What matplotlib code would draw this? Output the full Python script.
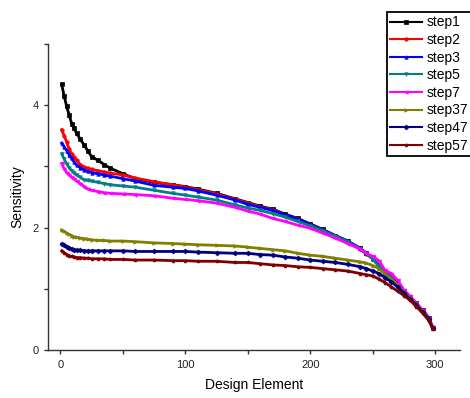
import matplotlib
matplotlib.use("Agg")
import matplotlib.pyplot as plt
from matplotlib.ticker import MultipleLocator

plt.rcParams["font.family"] = ["Liberation Sans", "DejaVu Sans"]

# design element index (sampled) and sensitivity per optimisation step
element = [1, 3, 5, 7, 9, 11, 13, 16, 19, 22, 25, 30, 35, 40, 50, 60, 75, 90, 100, 110,
           125, 140, 150, 160, 170, 180, 190, 200, 210, 220, 230, 240, 245, 250, 255, 260,
           265, 270, 275, 280, 285, 290, 295, 298]

step1 = [4.34, 4.15, 3.98, 3.84, 3.70, 3.62, 3.54, 3.44, 3.35, 3.25, 3.16, 3.10, 3.03, 2.97,
         2.88, 2.80, 2.74, 2.70, 2.67, 2.63, 2.56, 2.47, 2.41, 2.35, 2.30, 2.22, 2.15, 2.06,
         1.97, 1.87, 1.78, 1.66, 1.58, 1.50, 1.38, 1.27, 1.19, 1.07, 0.96, 0.87, 0.76, 0.65,
         0.53, 0.36]
step2 = [3.60, 3.50, 3.40, 3.28, 3.20, 3.15, 3.10, 3.03, 2.99, 2.97, 2.95, 2.93, 2.91, 2.89,
         2.86, 2.81, 2.75, 2.70, 2.66, 2.62, 2.55, 2.46, 2.40, 2.34, 2.29, 2.21, 2.14, 2.05,
         1.96, 1.87, 1.77, 1.65, 1.57, 1.49, 1.37, 1.26, 1.18, 1.06, 0.95, 0.86, 0.75, 0.64,
         0.52, 0.36]
step3 = [3.38, 3.32, 3.26, 3.19, 3.13, 3.07, 3.02, 2.98, 2.94, 2.92, 2.90, 2.88, 2.86, 2.84,
         2.80, 2.76, 2.69, 2.66, 2.64, 2.60, 2.53, 2.45, 2.38, 2.33, 2.28, 2.21, 2.14, 2.05,
         1.96, 1.87, 1.78, 1.66, 1.58, 1.49, 1.38, 1.26, 1.18, 1.06, 0.95, 0.86, 0.75, 0.64,
         0.52, 0.36]
step5 = [3.21, 3.12, 3.04, 2.98, 2.93, 2.89, 2.86, 2.82, 2.78, 2.77, 2.76, 2.74, 2.72, 2.70,
         2.68, 2.66, 2.61, 2.56, 2.53, 2.50, 2.45, 2.37, 2.32, 2.28, 2.23, 2.17, 2.10, 2.03,
         1.95, 1.86, 1.77, 1.65, 1.57, 1.49, 1.37, 1.26, 1.17, 1.05, 0.94, 0.85, 0.74, 0.63,
         0.51, 0.36]
step7 = [3.05, 2.96, 2.90, 2.86, 2.82, 2.79, 2.76, 2.72, 2.67, 2.63, 2.61, 2.59, 2.57, 2.56,
         2.55, 2.54, 2.52, 2.48, 2.46, 2.44, 2.40, 2.33, 2.27, 2.22, 2.15, 2.10, 2.04, 1.99,
         1.91, 1.83, 1.74, 1.65, 1.58, 1.53, 1.46, 1.30, 1.25, 1.14, 0.98, 0.88, 0.76, 0.65,
         0.52, 0.38]
step37 = [1.96, 1.94, 1.91, 1.89, 1.87, 1.85, 1.84, 1.83, 1.82, 1.81, 1.80, 1.79, 1.79, 1.78,
          1.78, 1.77, 1.75, 1.74, 1.73, 1.72, 1.71, 1.70, 1.68, 1.66, 1.64, 1.62, 1.58, 1.55,
          1.53, 1.50, 1.47, 1.44, 1.42, 1.38, 1.33, 1.24, 1.16, 1.06, 0.95, 0.85, 0.74, 0.63,
          0.51, 0.36]
step47 = [1.73, 1.71, 1.69, 1.67, 1.65, 1.64, 1.63, 1.63, 1.62, 1.62, 1.62, 1.62, 1.62, 1.62,
          1.62, 1.61, 1.61, 1.61, 1.61, 1.60, 1.59, 1.58, 1.58, 1.56, 1.55, 1.52, 1.50, 1.47,
          1.45, 1.43, 1.40, 1.36, 1.33, 1.29, 1.25, 1.18, 1.11, 1.03, 0.93, 0.83, 0.73, 0.62,
          0.50, 0.36]
step57 = [1.62, 1.59, 1.56, 1.54, 1.53, 1.52, 1.51, 1.51, 1.50, 1.50, 1.49, 1.49, 1.49, 1.48,
          1.48, 1.47, 1.47, 1.46, 1.46, 1.45, 1.45, 1.43, 1.43, 1.41, 1.39, 1.38, 1.36, 1.35,
          1.33, 1.31, 1.29, 1.25, 1.23, 1.21, 1.16, 1.10, 1.03, 0.96, 0.89, 0.81, 0.71, 0.60,
          0.48, 0.35]

labels = ["step1", "step2", "step3", "step5", "step7", "step37", "step47", "step57"]
series = [step1, step2, step3, step5, step7, step37, step47, step57]
colors = ["#000000", "#FF0000", "#0000FF", "#008080", "#FF00FF", "#808000", "#000080", "#800000"]
markers = ["s", "o", "^", "v", "<", ">", "D", "p"]

fig = plt.figure(figsize=(4.7, 3.98), dpi=100)
ax = fig.add_axes([0.102, 0.1206, 0.877, 0.7688])

for y, lab, c, m in zip(series, labels, colors, markers):
    ax.plot(element, y, color=c, lw=2.0, marker=m, markersize=2.5,
            markeredgewidth=0.5, label=lab)

ax.set_xlim(-10, 320)
ax.set_ylim(0, 5)
ax.xaxis.set_major_locator(MultipleLocator(100))
ax.xaxis.set_minor_locator(MultipleLocator(50))
ax.yaxis.set_major_locator(MultipleLocator(2))
ax.yaxis.set_minor_locator(MultipleLocator(1))
ax.tick_params(which="both", direction="out", length=3, width=1, color="#333333",
               labelsize=8, labelcolor="#222222")
ax.tick_params(axis="x", pad=4)

for side in ("top", "right"):
    ax.spines[side].set_visible(False)
for side in ("left", "bottom"):
    ax.spines[side].set_color("#333333")
    ax.spines[side].set_linewidth(1.0)

ax.set_xlabel("Design Element", fontsize=10, labelpad=6)
ax.set_ylabel("Sensitivity", fontsize=10, labelpad=6)

leg = fig.legend(loc="upper left", bbox_to_anchor=(0.823, 0.970), fontsize=10,
                 frameon=True, fancybox=False, shadow=False, edgecolor="black",
                 framealpha=1, borderaxespad=0, borderpad=0.25, labelspacing=0.26,
                 handlelength=2.3, handletextpad=0.35)
leg.get_frame().set_linewidth(1.3)
for h in leg.legend_handles:
    h.set_linewidth(1.5)

fig.savefig("out.png", dpi=100)
